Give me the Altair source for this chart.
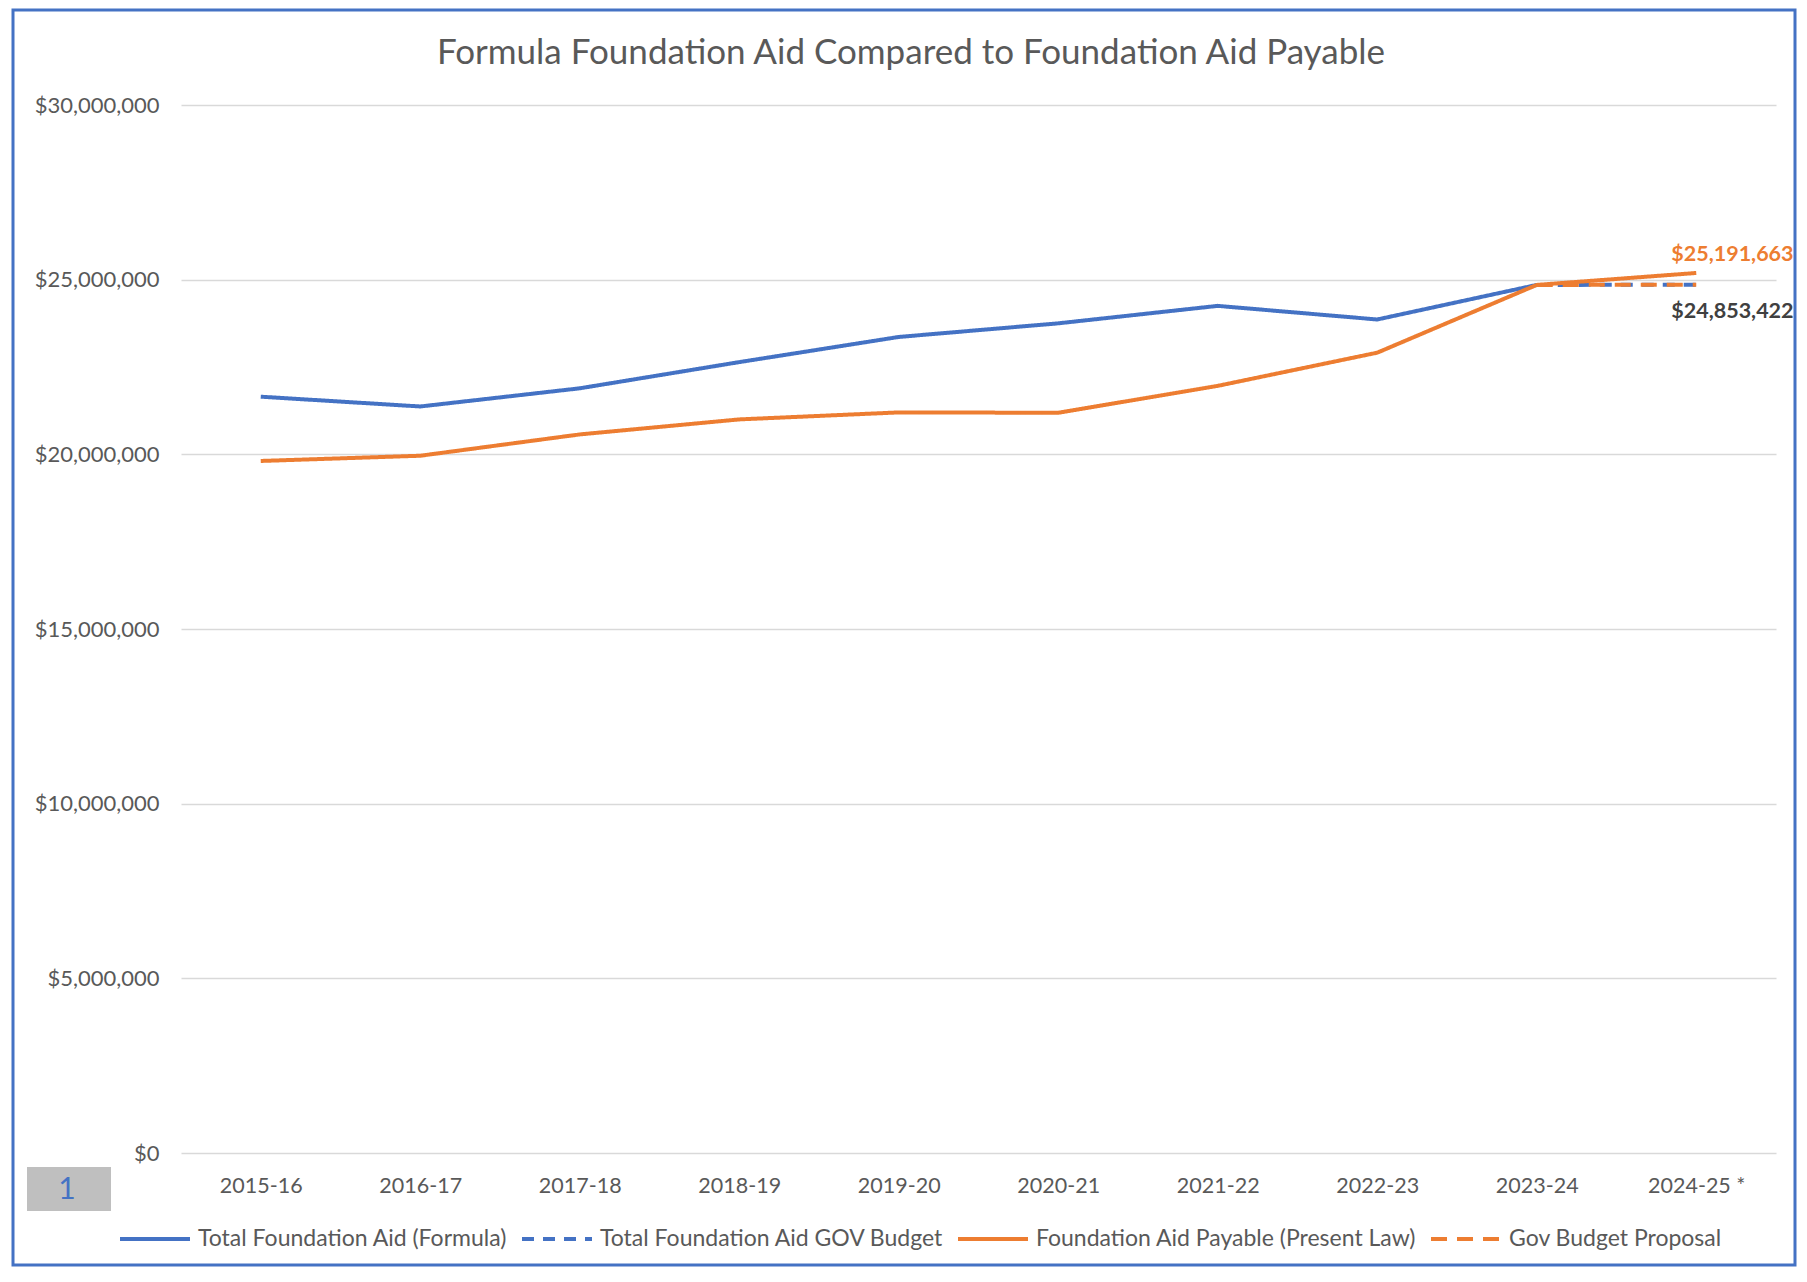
import altair as alt
import pandas as pd

years = ["2015-16", "2016-17", "2017-18", "2018-19", "2019-20",
         "2020-21", "2021-22", "2022-23", "2023-24", "2024-25 *"]

formula = [21650000, 21370000, 21890000, 22640000, 23360000,
           23750000, 24250000, 23860000, 24850000]
gov_budget_years = ["2023-24", "2024-25 *"]
gov_budget = [24850000, 24853422]
payable = [19810000, 19960000, 20570000, 21000000, 21200000,
           21190000, 21960000, 22910000, 24850000, 25191663]
proposal_years = ["2023-24", "2024-25 *"]
proposal = [24850000, 24853422]

series_names = ["Total Foundation Aid (Formula)", "Total Foundation Aid GOV Budget",
                "Foundation Aid Payable (Present Law)", "Gov Budget Proposal"]
series_colors = ["#4472C4", "#4472C4", "#ED7D31", "#ED7D31"]
series_dash = [[1, 0], [12, 9], [1, 0], [16, 10]]

label_years = ["2024-25 *", "2024-25 *"]
label_values = [25191663, 24853422]
label_text = ["$25,191,663", "$24,853,422"]

chart_title = "Formula Foundation Aid Compared to Foundation Aid Payable"

rows = []
for y, v in zip(years[:len(formula)], formula):
    rows.append({"year": y, "value": v, "series": series_names[0]})
for y, v in zip(gov_budget_years, gov_budget):
    rows.append({"year": y, "value": v, "series": series_names[1]})
for y, v in zip(years, payable):
    rows.append({"year": y, "value": v, "series": series_names[2]})
for y, v in zip(proposal_years, proposal):
    rows.append({"year": y, "value": v, "series": series_names[3]})
df = pd.DataFrame(rows)

FONT = "Lato"
GREY = "#595959"

x_enc = alt.X("year:N", sort=years,
              scale=alt.Scale(type="point", padding=0.5),
              axis=alt.Axis(title=None, labelAngle=0, domain=False, ticks=False,
                            labelPadding=22, labelFontSize=21.5, labelColor=GREY,
                            labelFont=FONT, grid=False))
y_enc = alt.Y("value:Q", scale=alt.Scale(domain=[0, 30000000], nice=False),
              axis=alt.Axis(title=None, values=[0, 5000000, 10000000, 15000000,
                                                 20000000, 25000000, 30000000],
                            format="$,.0f", domain=False, ticks=False,
                            labelPadding=22, labelFontSize=22, labelColor=GREY,
                            labelFont=FONT, gridColor="#D9D9D9", gridWidth=1.3))
leg = alt.Legend(orient="none", legendX=-63, legendY=1097,
                 direction="horizontal", title=None,
                 symbolType="stroke", symbolSize=4900,
                 symbolStrokeWidth=4, labelFontSize=23, labelLimit=0,
                 labelFont=FONT, labelColor=GREY,
                 columnPadding=6, labelOffset=6, padding=0)
color_enc = alt.Color("series:N", scale=alt.Scale(domain=series_names, range=series_colors),
                      legend=leg)
dash_enc = alt.StrokeDash("series:N", scale=alt.Scale(domain=series_names, range=series_dash),
                          legend=leg)

base = alt.Chart(df).mark_line(strokeWidth=4).encode(
    x=x_enc, y=y_enc, color=color_enc, strokeDash=dash_enc)

lines = [base.transform_filter(alt.datum.series == s) for s in series_names]

lab_df = pd.DataFrame({"year": label_years, "value": label_values, "text": label_text})
lab_top = alt.Chart(lab_df.iloc[[0]]).mark_text(
    align="left", dx=-25, dy=-18, fontSize=21.5, font=FONT, fontWeight="bold",
    color="#ED7D31").encode(x=alt.X("year:N", sort=years), y="value:Q", text="text:N")
lab_bot = alt.Chart(lab_df.iloc[[1]]).mark_text(
    align="left", dx=-25, dy=27, fontSize=21.5, font=FONT, fontWeight="bold",
    color="#404040").encode(x=alt.X("year:N", sort=years), y="value:Q", text="text:N")

deco_df = pd.DataFrame({"k": [0]})
border = alt.Chart(deco_df).mark_rect(filled=False, stroke="#4472C4", strokeWidth=3).encode(
    x=alt.value(-168), x2=alt.value(1614), y=alt.value(-95), y2=alt.value(1160))
box = alt.Chart(deco_df).mark_rect(fill="#BFBFBF").encode(
    x=alt.value(-154), x2=alt.value(-70), y=alt.value(1062), y2=alt.value(1106))
box_text = alt.Chart(deco_df).mark_text(fontSize=30, font=FONT, color="#4472C4").encode(
    x=alt.value(-114), y=alt.value(1085), text=alt.value("1"))
title_text = alt.Chart(deco_df).mark_text(fontSize=35, font=FONT, color=GREY,
                                          baseline="middle", align="center").encode(
    x=alt.value(730), y=alt.value(-52), text=alt.value(chart_title))

chart = alt.layer(border, box, box_text, title_text, *lines, lab_top, lab_bot).properties(
    width=1595, height=1048,
    autosize=alt.AutoSizeParams(type="none"),
    padding={"left": 173, "top": 97, "right": 22, "bottom": 117},
    background="white",
).configure_view(stroke=None)

chart.save("out.html", embed_options={"renderer": "svg", "actions": False})
